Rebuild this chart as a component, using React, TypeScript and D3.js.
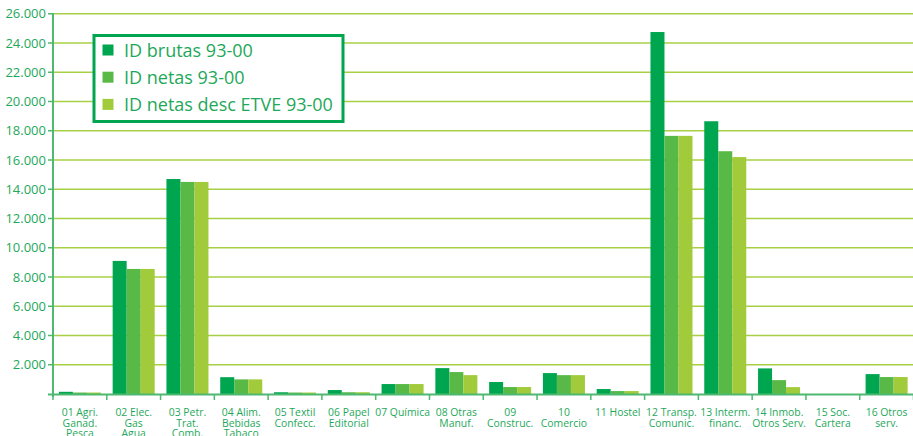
import React from "react";
import * as d3 from "d3";

const categories: string[][] = [
  ["01 Agri.", "Ganad.", "Pesca"],
  ["02 Elec.", "Gas", "Agua"],
  ["03 Petr.", "Trat.", "Comb."],
  ["04 Alim.", "Bebidas", "Tabaco"],
  ["05 Textil", "Confecc."],
  ["06 Papel", "Editorial"],
  ["07 Química"],
  ["08 Otras", "Manuf."],
  ["09", "Construc."],
  ["10", "Comercio"],
  ["11 Hostel"],
  ["12 Transp.", "Comunic."],
  ["13 Interm.", "financ."],
  ["14 Inmob.", "Otros Serv."],
  ["15 Soc.", "Cartera"],
  ["16 Otros", "serv."],
];

const seriesNames = ["ID brutas 93-00", "ID netas 93-00", "ID netas desc ETVE 93-00"];
const seriesColors = ["#00a54f", "#59b947", "#a1cb3a"];

const brutas = [150, 9100, 14700, 1150, 120, 270, 680, 1770, 820, 1430, 340, 24750, 18650, 1750, 0, 1360];
const netas = [100, 8550, 14500, 1000, 100, 120, 680, 1500, 475, 1290, 200, 17650, 16600, 950, 0, 1160];
const netasDesc = [100, 8550, 14500, 1000, 100, 120, 680, 1290, 475, 1290, 200, 17650, 16200, 470, 0, 1160];

const yTicks = [2000, 4000, 6000, 8000, 10000, 12000, 14000, 16000, 18000, 20000, 22000, 24000, 26000];

const W = 913;
const H = 436;
const FONT = "'Open Sans', sans-serif";
const TEXT = "#1ea85a";

export default function App() {
  const x = d3.scaleBand<number>().domain(d3.range(categories.length)).range([53, 913.5]).paddingInner(0).paddingOuter(0);
  const xInner = d3.scaleBand<number>().domain([0, 1, 2]).range([0, x.bandwidth()]).paddingOuter(0.42).paddingInner(0);
  const y = d3.scaleLinear().domain([0, 26000]).range([394, 13.75]);
  const fmt = (v: number) => d3.format(",")(v).replace(/,/g, ".");
  const series = [brutas, netas, netasDesc];

  return (
    <svg width={W} height={H} style={{ position: "absolute", left: 0, top: 0 }} fontFamily={FONT}>
      {/* gridlines */}
      {yTicks.map((t) => (
        <line key={t} x1={53} x2={W} y1={y(t)} y2={y(t)} stroke="#a8d046" strokeWidth={1.3} />
      ))}
      {/* y ticks and labels */}
      {yTicks.map((t) => (
        <g key={"yt" + t}>
          <line x1={48} x2={53} y1={y(t)} y2={y(t)} stroke="#4cb870" strokeWidth={1.5} />
          <text x={46} y={y(t)} dy="0.35em" textAnchor="end" fontSize={13} fill={TEXT}>
            {fmt(t)}
          </text>
        </g>
      ))}
      {/* bars */}
      {categories.map((_, i) => (
        <g key={"g" + i} transform={`translate(${x(i)},0)`}>
          {series.map((s, k) => (
            <rect
              key={k}
              x={xInner(k)}
              width={xInner.bandwidth()}
              y={y(s[i])}
              height={y(0) - y(s[i])}
              fill={seriesColors[k]}
            />
          ))}
        </g>
      ))}
      {/* axes */}
      <line x1={53} x2={53} y1={13} y2={397} stroke="#4cb870" strokeWidth={2} />
      <line x1={48} x2={W} y1={394.5} y2={394.5} stroke="#4cb870" strokeWidth={2} />
      {d3.range(categories.length + 1).map((i) => {
        const xx = i < categories.length ? (x(i) as number) : 913.5;
        return <line key={"xt" + i} x1={xx} x2={xx} y1={394} y2={400} stroke="#4cb870" strokeWidth={1.5} />;
      })}
      {/* x labels */}
      {categories.map((lines, i) => (
        <text key={"xl" + i} x={(x(i) as number) + x.bandwidth() / 2} textAnchor="middle" fontSize={10.4} fill={TEXT}>
          {lines.map((l, j) => (
            <tspan key={j} x={(x(i) as number) + x.bandwidth() / 2} y={416.3 + j * 10.4}>
              {l}
            </tspan>
          ))}
        </text>
      ))}
      {/* legend */}
      <rect x={94} y={35.5} width={249} height={86} fill="#fff" stroke="#00a54f" strokeWidth={3} />
      {seriesNames.map((n, k) => (
        <g key={"lg" + k}>
          <rect x={102.5} y={44.5 + k * 27.2} width={11} height={11} fill={seriesColors[k]} />
          <text x={124} y={56.7 + k * 27.2} fontSize={18} fill={TEXT}>
            {n}
          </text>
        </g>
      ))}
    </svg>
  );
}
